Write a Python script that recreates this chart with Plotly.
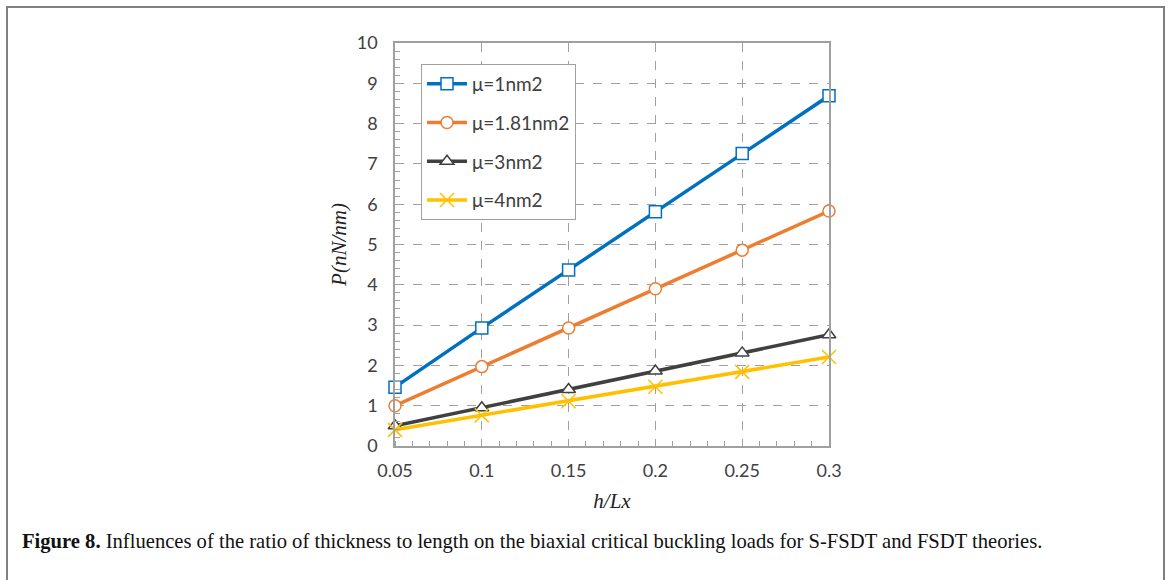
import plotly.graph_objects as go

h_lx = [0.05, 0.1, 0.15, 0.2, 0.25, 0.3]
mu1 = [1.46, 2.93, 4.37, 5.81, 7.26, 8.69]
mu181 = [1.00, 1.97, 2.93, 3.90, 4.86, 5.83]
mu3 = [0.50, 0.95, 1.40, 1.86, 2.31, 2.76]
mu4 = [0.40, 0.76, 1.11, 1.47, 1.84, 2.21]
names = ["μ=1nm2", "μ=1.81nm2", "μ=3nm2", "μ=4nm2"]
colors = ["#0070C0", "#ED7D31", "#404040", "#FFC000"]
symbols = ["square", "circle", "triangle-up", "x-thin"]
x_ticks = [0.05, 0.1, 0.15, 0.2, 0.25, 0.3]
x_tick_text = ["0.05", "0.1", "0.15", "0.2", "0.25", "0.3"]

fig = go.Figure()
for i, (name, ys, c, s) in enumerate(zip(names, [mu1, mu181, mu3, mu4], colors, symbols)):
    is_x = s == "x-thin"
    fig.add_trace(go.Scatter(
        x=h_lx, y=ys, name=name, mode="lines+markers", legendgroup=f"g{i}",
        cliponaxis=False,
        line=dict(color=c, width=3.5),
        marker=dict(symbol=s, size=14 if is_x else 12,
                    color=c if is_x else "#FFFFFF",
                    line=dict(color=c, width=1.5)),
    ))

W, H = 1168, 580
L, R, T, B = 395, 829, 43, 446
pw, ph = R - L, B - T
def px(x):
    return (x - L) / pw
def py(y):
    return (B - y) / ph

fig.update_layout(
    width=W, height=H,
    margin=dict(l=L, r=W - R, t=T, b=H - B),
    paper_bgcolor="white", plot_bgcolor="white",
    font=dict(family="Lato, Open Sans, sans-serif", size=14, color="#404040"),
    showlegend=True,
    legend=dict(x=px(421), y=py(64), xanchor="left", yanchor="top",
                bgcolor="white", bordercolor="#A0A0A0", borderwidth=1,
                font=dict(size=19, color="#404040"), tracegroupgap=11,
                itemwidth=40),
    xaxis=dict(range=[0.05, 0.3], tickvals=x_ticks, ticktext=x_tick_text,
               showgrid=True, gridcolor="#A0A0A0", griddash="dash", gridwidth=1,
               showline=True, linecolor="#A0A0A0", linewidth=1.5, mirror=True,
               ticks="", zeroline=False, ticklabelstandoff=8,
               minor=dict(dtick=0.01, ticks="inside", ticklen=5, tickcolor="#A0A0A0", showgrid=False),
               tickfont=dict(size=18, color="#404040"),
               title=dict(text="<i>h/Lx</i>", font=dict(family="Liberation Serif, serif", size=21, color="#222"), standoff=13)),
    yaxis=dict(range=[0, 10], dtick=1,
               showgrid=True, gridcolor="#A0A0A0", griddash="dash", gridwidth=1,
               showline=True, linecolor="#A0A0A0", linewidth=1.5, mirror=True,
               ticks="", zeroline=False, ticklabelstandoff=12,
               minor=dict(dtick=0.2, ticks="inside", ticklen=5, tickcolor="#A0A0A0", showgrid=False),
               tickfont=dict(size=18, color="#404040"),
               title=dict(text="<i>P(nN/nm)</i>", font=dict(family="Liberation Serif, serif", size=21, color="#222"), standoff=4)),
)

fig.add_shape(type="rect", xref="paper", yref="paper",
              x0=px(7), x1=px(1164), y0=py(600), y1=py(7),
              line=dict(color="#808080", width=2), fillcolor="rgba(0,0,0,0)", layer="below")

fig.add_annotation(xref="paper", yref="paper", x=px(20), y=py(541),
                   xanchor="left", yanchor="middle", showarrow=False,
                   text="<b>Figure 8.</b> Influences of the ratio of thickness to length on the biaxial critical buckling loads for S-FSDT and FSDT theories.",
                   font=dict(family="Liberation Serif, serif", size=20.6, color="#111"))

fig.write_html("out.html", config={"displayModeBar": False},
               post_script="document.body.style.margin='0';")
